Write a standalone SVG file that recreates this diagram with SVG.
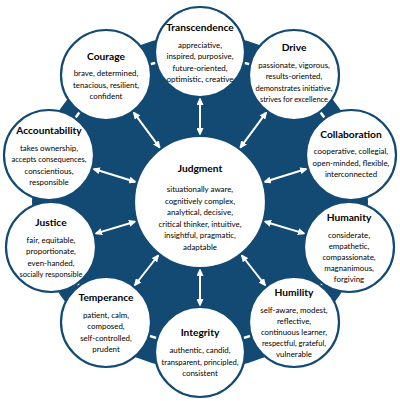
<svg xmlns="http://www.w3.org/2000/svg" width="400" height="401" viewBox="0 0 400 401">
<defs>
<style>
.node circle{fill:#fff;stroke:#124a74;stroke-width:2.2}
.t{font-family:Lato,"Liberation Sans",sans-serif;font-weight:bold;font-size:10.2px;fill:#000;text-anchor:middle}
.b{font-family:Lato,"Liberation Sans",sans-serif;font-size:7.9px;fill:#000;text-anchor:middle}
.arr{stroke:#fff;stroke-width:2;fill:none;marker-start:url(#ah);marker-end:url(#ah)}
.nb{stroke:#fff;stroke-width:2.5;fill:none}
</style>
<marker id="ah" viewBox="0 0 8 7" refX="6" refY="3.5" markerWidth="8" markerHeight="7" markerUnits="userSpaceOnUse" orient="auto-start-reverse">
<path d="M0,0 L8,3.5 L0,7 z" fill="#fff"/>
</marker>
</defs>
<rect width="400" height="401" fill="#fff"/>
<circle cx="200" cy="202" r="168" fill="#124a74"/>
<g id="connectors">
<path class="nb" d="M106,75 L200,52 L294,75 L351,155 L349,247 L294,322 L200,352 L106,322 L51,247 L49,155 Z"/>
<line class="arr" x1="200" y1="134" x2="200" y2="99"/>
<line class="arr" x1="240.5" y1="147.3" x2="266" y2="112.8"/>
<line class="arr" x1="264.9" y1="181.8" x2="306.1" y2="169"/>
<line class="arr" x1="265.1" y1="221.7" x2="303.9" y2="233.4"/>
<line class="arr" x1="241.9" y1="255.5" x2="265" y2="285"/>
<line class="arr" x1="200" y1="270" x2="200" y2="305"/>
<line class="arr" x1="158.1" y1="255.5" x2="135" y2="285"/>
<line class="arr" x1="134.9" y1="221.7" x2="96.1" y2="233.4"/>
<line class="arr" x1="135.1" y1="181.8" x2="93.9" y2="169"/>
<line class="arr" x1="159.5" y1="147.3" x2="134" y2="112.8"/>
</g>
<g id="judgment" class="node">
<circle cx="200" cy="202" r="66"/>
<text class="t" x="200" y="172">Judgment</text>
<text class="b" x="200" y="192">situationally aware,</text>
<text class="b" x="200" y="203.5">cognitively complex,</text>
<text class="b" x="200" y="215">analytical, decisive,</text>
<text class="b" x="200" y="226.5">critical thinker, intuitive,</text>
<text class="b" x="200" y="238">insightful, pragmatic,</text>
<text class="b" x="200" y="249.5">adaptable</text>
</g>
<g id="transcendence" class="node">
<circle cx="200" cy="52" r="45"/>
<text class="t" x="200" y="31">Transcendence</text>
<text class="b" x="200" y="47.5">appreciative,</text>
<text class="b" x="200" y="59">inspired, purposive,</text>
<text class="b" x="200" y="70.5">future-oriented,</text>
<text class="b" x="200" y="82" textLength="67" lengthAdjust="spacingAndGlyphs">optimistic, creative</text>
</g>
<g id="drive" class="node">
<circle cx="294" cy="75" r="45"/>
<text class="t" x="294" y="51">Drive</text>
<text class="b" x="294" y="67.5">passionate, vigorous,</text>
<text class="b" x="294" y="79">results-oriented,</text>
<text class="b" x="294" y="90.5" textLength="77" lengthAdjust="spacingAndGlyphs">demonstrates initiative,</text>
<text class="b" x="294" y="102" textLength="68" lengthAdjust="spacingAndGlyphs">strives for excellence</text>
</g>
<g id="collaboration" class="node">
<circle cx="351" cy="155" r="45"/>
<text class="t" x="351" y="138">Collaboration</text>
<text class="b" x="351" y="154">cooperative, collegial,</text>
<text class="b" x="351" y="165.5">open-minded, flexible,</text>
<text class="b" x="351" y="177">interconnected</text>
</g>
<g id="humanity" class="node">
<circle cx="349" cy="247" r="45"/>
<text class="t" x="349" y="221">Humanity</text>
<text class="b" x="349" y="237.5">considerate,</text>
<text class="b" x="349" y="248.5">empathetic,</text>
<text class="b" x="349" y="259.5">compassionate,</text>
<text class="b" x="349" y="270.5">magnanimous,</text>
<text class="b" x="349" y="281.5">forgiving</text>
</g>
<g id="humility" class="node">
<circle cx="294" cy="322" r="45"/>
<text class="t" x="294" y="296">Humility</text>
<text class="b" x="294" y="312.5">self-aware, modest,</text>
<text class="b" x="294" y="323.5">reflective,</text>
<text class="b" x="294" y="334.5">continuous learner,</text>
<text class="b" x="294" y="345.5" textLength="64" lengthAdjust="spacingAndGlyphs">respectful, grateful,</text>
<text class="b" x="294" y="356.5">vulnerable</text>
</g>
<g id="integrity" class="node">
<circle cx="200" cy="352" r="45"/>
<text class="t" x="200" y="336">Integrity</text>
<text class="b" x="200" y="353">authentic, candid,</text>
<text class="b" x="200" y="364.5" textLength="77" lengthAdjust="spacingAndGlyphs">transparent, principled,</text>
<text class="b" x="200" y="376">consistent</text>
</g>
<g id="temperance" class="node">
<circle cx="106" cy="322" r="45"/>
<text class="t" x="106" y="301">Temperance</text>
<text class="b" x="106" y="317.5">patient, calm,</text>
<text class="b" x="106" y="329">composed,</text>
<text class="b" x="106" y="340.5">self-controlled,</text>
<text class="b" x="106" y="352">prudent</text>
</g>
<g id="justice" class="node">
<circle cx="51" cy="247" r="45"/>
<text class="t" x="51" y="226">Justice</text>
<text class="b" x="51" y="242.5">fair, equitable,</text>
<text class="b" x="51" y="254">proportionate,</text>
<text class="b" x="51" y="265.5">even-handed,</text>
<text class="b" x="51" y="277" textLength="63" lengthAdjust="spacingAndGlyphs">socially responsible</text>
</g>
<g id="accountability" class="node">
<circle cx="49" cy="155" r="45"/>
<text class="t" x="49" y="134">Accountability</text>
<text class="b" x="49" y="150.5">takes ownership,</text>
<text class="b" x="49" y="162" textLength="75" lengthAdjust="spacingAndGlyphs">accepts consequences,</text>
<text class="b" x="49" y="173.5">conscientious,</text>
<text class="b" x="49" y="185">responsible</text>
</g>
<g id="courage" class="node">
<circle cx="106" cy="75" r="45"/>
<text class="t" x="106" y="59.5">Courage</text>
<text class="b" x="106" y="76">brave, determined,</text>
<text class="b" x="106" y="87.5">tenacious, resilient,</text>
<text class="b" x="106" y="99">confident</text>
</g>
</svg>
